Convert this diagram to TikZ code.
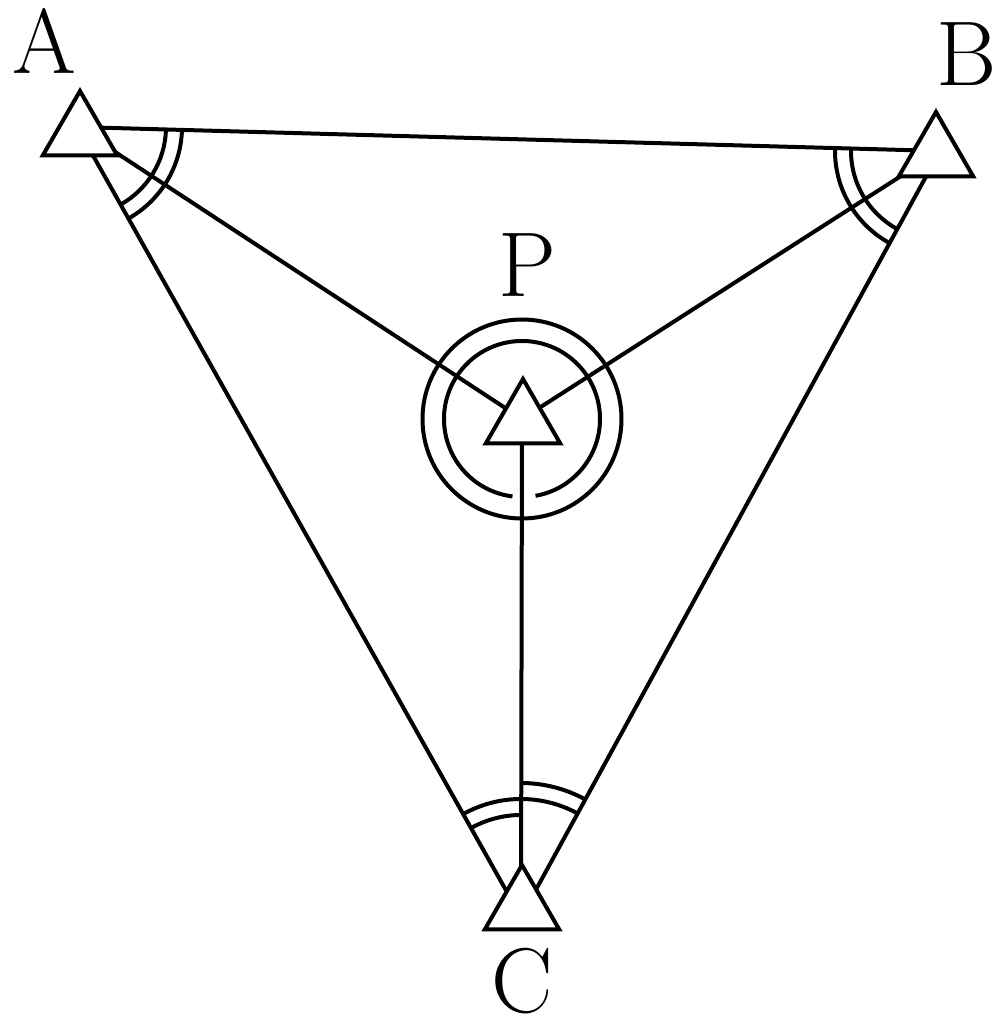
\documentclass[tikz,border=0pt]{standalone}
\usepackage{fontspec}
\usetikzlibrary{calc,shapes.geometric}

\tikzset{station/.style={regular polygon,regular polygon sides=3,draw,fill=white,
    inner sep=0pt,minimum size=43pt},
  lbl/.style={inner sep=0pt,font=\fontsize{46}{46}\selectfont}}

\begin{document}
\begin{tikzpicture}[x=0.5pt,y=0.5pt,line width=2pt]
  \useasboundingbox (0,0) rectangle (1007,1024);
  \coordinate (A) at (77,897); \coordinate (B) at (940,873);
  \coordinate (P) at (522,605); \coordinate (C) at (521,107);
  \path (A) edge (B) edge (P) edge (C)
    (B) edge (P) edge (C)
    (P) edge (C);
  % angles at A and B
  \draw let \p1=($(B)-(A)$), \p2=($(C)-(A)$), \n1={atan2(\y1,\x1)},
    \n2={atan2(\y2,\x2)} in
    ($(A)+(\n2:89)$) arc[start angle=\n2,end angle=\n1,radius=89]
    ($(A)+(\n2:105)$) arc[start angle=\n2,end angle=\n1,radius=105];
  \draw let \p1=($(A)-(B)$), \p2=($(C)-(B)$), \n1={atan2(\y1,\x1)},
    \n2={atan2(\y2,\x2)+360} in
    ($(B)+(\n1:89)$) arc[start angle=\n1,end angle=\n2,radius=89]
    ($(B)+(\n1:105)$) arc[start angle=\n1,end angle=\n2,radius=105];
  % angles at C
  \draw let \p1=($(A)-(C)$), \p2=($(P)-(C)$), \p3=($(B)-(C)$),
    \n1={atan2(\y1,\x1)}, \n2={atan2(\y2,\x2)}, \n3={atan2(\y3,\x3)} in
    ($(C)+(\n2:102)$) arc[start angle=\n2,end angle=\n1,radius=102]
    ($(C)+(\n2:118)$) arc[start angle=\n2,end angle=\n1,radius=118]
    ($(C)+(\n3:118)$) arc[start angle=\n3,end angle=\n2,radius=118]
    ($(C)+(\n3:134)$) arc[start angle=\n3,end angle=\n2,radius=134];
  % round of directions at P
  \draw (P) circle[radius=99.5];
  \draw ($(P)+(-80:78)$) arc[start angle=-80,end angle=263,radius=78];
  \node[station] (mA) at (80,890) {};
  \node[station] (mB) at (936,869) {};
  \node[station] (mP) at (523,602) {};
  \node[station] (mC) at (522,116) {};
  \node[lbl] (lA) at (44,983) {A};
  \node[lbl] (lB) at (967,970) {B};
  \node[lbl] (lP) at (527,759) {P};
  \node[lbl] (lC) at (522,43) {C};
\end{tikzpicture}
\end{document}
